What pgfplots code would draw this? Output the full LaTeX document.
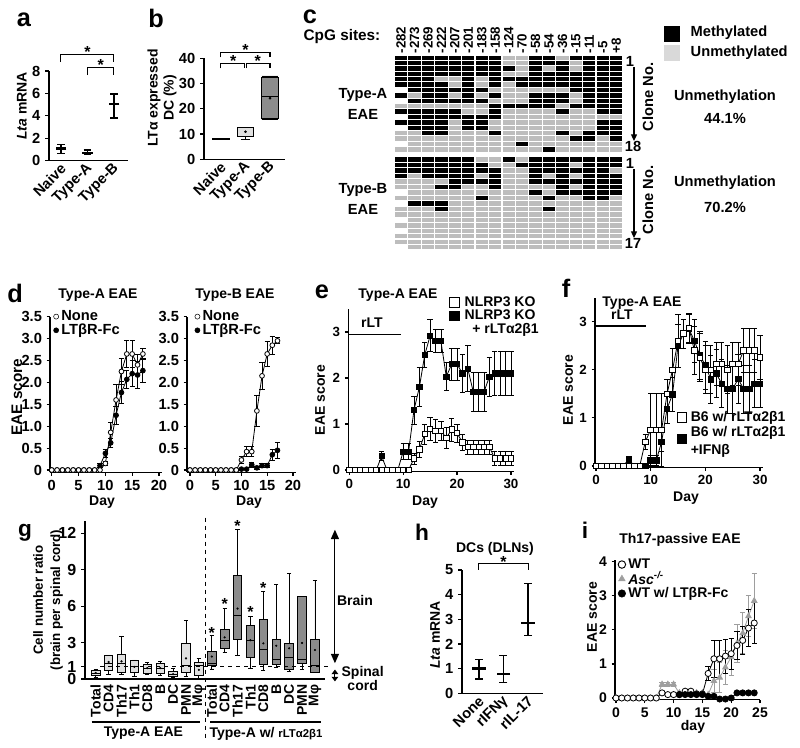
\documentclass[border=0pt]{standalone}
\usepackage{fontspec}
\setmainfont{Liberation Sans}
\usepackage{pgfplots}
\pgfplotsset{compat=1.18}
\usepgfplotslibrary{statistics}
\usetikzlibrary{arrows.meta}
\newcommand{\fs}[1]{\fontsize{#1}{#1}\selectfont}
\pgfdeclareplotmark{cell}{\pgfpathrectangle{\pgfpoint{-4.6pt}{-1.65pt}}{\pgfpoint{9.2pt}{3.3pt}}\pgfusepathqfill}
\definecolor{cellgray}{gray}{0.74}
\definecolor{leggray}{gray}{0.85}
\definecolor{boxlight}{gray}{0.88}
\definecolor{boxdark}{gray}{0.55}
\definecolor{ascgray}{gray}{0.62}
\pgfplotsset{
  base/.style={scale only axis, anchor=south west, axis lines=left,
    axis line style={-, line width=0.9pt}, tick style={black, line width=0.9pt},
    tick align=outside, major tick length=3pt, clip=false,
    /pgf/number format/assume math mode=true, boxplot/draw direction=y,
    tick label style={font=\bfseries\fs{11}}},
  nox/.style={xtick style={draw=none}},
  eb/.style n args={3}{draw=none, mark=none, forget plot,
    error bars/.cd, y dir=both, y explicit,
    error bar style={draw=#1, line width=#2, solid},
    error mark options={rotate=90, mark size=#3, line width=#2, draw=#1}},
  mk/.style n args={2}{black, only marks, forget plot, mark=-, mark size=#1,
    mark options={line width=1.8pt},
    error bars/.cd, y dir=both, y explicit, error bar style={line width=0.9pt},
    error mark options={rotate=90, mark size=#2, line width=0.9pt}},
  omleg/.style={legend image code/.code={\draw[##1] plot coordinates {(0.12cm,0cm)};},
    legend cell align=left},
}
\begin{document}
\begin{tikzpicture}
\useasboundingbox (0pt,0pt) rectangle (600pt,-560.25pt);

% ---------------- a ----------------
\begin{axis}[base, nox, at={(36.75pt,-120.525pt)}, width=59.25pt, height=67.3pt,
  xmin=-0.45, xmax=2.53, ymin=0, ymax=8, ytick={0,2,4,6,8},
  xtick={0,1,2}, xticklabels={Naive,Type-A,Type-B},
  x tick label style={rotate=45, anchor=east, xshift=4pt, yshift=-2pt}]
\addplot[mk={4pt}{2.8pt}] coordinates {(0,1.1) += (0,0.35) -= (0,0.43) (1,0.7) += (0,0.26) -= (0,0.11) (2,5.05) += (0,0.9) -= (0,1.25)};
\draw[line width=0.8pt] (0,8.8) -- (0,9.43) -- (2,9.43) -- (2,8.8);
\node[font=\bfseries\fs{12}] at (1,9.7) {*};
\draw[line width=0.8pt] (1,7.64) -- (1,8.27) -- (2,8.27) -- (2,7.64);
\node[font=\bfseries\fs{12}] at (1.5,8.5) {*};
\end{axis}

% ---------------- b ----------------
\begin{axis}[base, nox, at={(153pt,-119.475pt)}, width=60.75pt, height=75.75pt,
  xmin=-0.69, xmax=2.61, ymin=0, ymax=40, ytick={0,10,20,30,40},
  xtick={0,1,2}, xticklabels={Naive,Type-A,Type-B},
  x tick label style={rotate=45, anchor=east, xshift=4pt, yshift=-2pt},
  boxplot/box extend=0.68, boxplot/whisker extend=0.68]
\addplot[black, line width=1.2pt, boxplot prepared={draw position=0, median=7.9, lower quartile=7.85, upper quartile=7.95, lower whisker=7.85, upper whisker=7.95}] coordinates {};
\addplot[black, line width=0.7pt, fill=boxlight, boxplot/whisker extend=0.4, boxplot prepared={draw position=1, median=12.5, lower quartile=9.0, upper quartile=12.7, lower whisker=8.0, upper whisker=12.7}] coordinates {};
\addplot[black, line width=0.7pt, fill=boxdark, boxplot prepared={draw position=2, median=24.7, lower quartile=16.2, upper quartile=32.5, lower whisker=15.6, upper whisker=33}] coordinates {};
\addplot[black, only marks, mark=*, mark size=0.8pt] coordinates {(1,10.9) (2,24.2)};
\draw[line width=0.8pt] (0,40.4) -- (0,42.2) -- (2,42.2) -- (2,40.4);
\draw[line width=0.8pt] (0,36.0) -- (0,38.0) -- (0.95,38.0) -- (0.95,36.0);
\draw[line width=0.8pt] (1.05,36.0) -- (1.05,38.0) -- (2,38.0) -- (2,36.0);
\node[font=\bfseries\fs{12}] at (1,43.2) {*};
\node[font=\bfseries\fs{12}] at (0.5,39.0) {*};
\node[font=\bfseries\fs{12}] at (1.5,39.0) {*};
\end{axis}

% ---------------- c ----------------
\begin{axis}[scale only axis, anchor=south west, at={(295.725pt,-114pt)}, width=171.5pt, height=72.75pt,
  xmin=-0.5, xmax=16.5, ymin=-17.5, ymax=0.5, clip=false,
  axis line style={draw=none}, tick style={draw=none}, ytick=\empty,
  xtick={0,...,16}, xticklabel pos=right,
  xticklabels={-282,-273,-269,-222,-207,-201,-183,-158,-124,-70,-58,-54,-36,-15,-11,-5,+8},
  x tick label style={rotate=90, anchor=west, font=\bfseries\fs{10}, inner sep=1pt}]
\addplot[scatter, only marks, point meta=explicit symbolic,
  scatter/classes={0={mark=cell,cellgray},1={mark=cell,black}}]
  table[row sep=\\, x expr={mod(\coordindex,17)}, y expr={-floor(\coordindex/17)}, meta=m] {
m\\
1\\1\\1\\1\\1\\1\\1\\1\\0\\0\\1\\1\\0\\1\\1\\1\\1\\
1\\1\\1\\1\\1\\1\\1\\1\\0\\0\\1\\1\\1\\0\\1\\1\\1\\
1\\1\\1\\1\\1\\1\\1\\1\\1\\0\\1\\0\\1\\0\\1\\1\\1\\
1\\1\\1\\1\\1\\1\\1\\1\\0\\0\\1\\1\\1\\1\\1\\1\\1\\
1\\1\\1\\0\\0\\1\\0\\1\\1\\1\\1\\1\\1\\1\\1\\1\\1\\
1\\1\\1\\1\\0\\1\\0\\1\\0\\1\\1\\1\\1\\1\\1\\1\\1\\
1\\1\\1\\1\\1\\1\\1\\0\\0\\0\\0\\0\\0\\1\\1\\1\\1\\
1\\0\\1\\1\\0\\1\\0\\1\\0\\0\\1\\1\\1\\0\\1\\1\\1\\
1\\1\\1\\1\\1\\1\\1\\0\\0\\0\\1\\1\\1\\0\\1\\1\\1\\
0\\0\\0\\0\\0\\0\\0\\1\\1\\1\\1\\1\\0\\1\\1\\1\\1\\
0\\1\\1\\1\\1\\0\\0\\1\\0\\0\\0\\0\\1\\0\\0\\1\\1\\
1\\1\\1\\1\\1\\1\\1\\1\\0\\0\\0\\0\\0\\0\\0\\0\\0\\
1\\1\\1\\1\\0\\1\\1\\0\\0\\0\\0\\0\\0\\0\\0\\1\\1\\
1\\1\\1\\1\\0\\1\\1\\0\\0\\0\\0\\0\\0\\0\\0\\1\\1\\
0\\0\\1\\1\\0\\0\\0\\1\\0\\0\\0\\0\\1\\0\\1\\1\\1\\
0\\0\\0\\0\\0\\0\\0\\0\\0\\0\\0\\0\\0\\1\\1\\0\\1\\
0\\0\\0\\0\\0\\0\\0\\0\\0\\1\\0\\0\\0\\0\\0\\0\\0\\
0\\0\\0\\0\\0\\0\\0\\0\\0\\0\\0\\1\\0\\0\\0\\0\\0\\
};
\end{axis}
\begin{axis}[scale only axis, anchor=south west, at={(295.725pt,-187.5pt)}, width=171.5pt, height=70pt,
  xmin=-0.5, xmax=16.5, ymin=-16.5, ymax=0.5, clip=false,
  axis line style={draw=none}, tick style={draw=none}, ytick=\empty, xtick=\empty]
\addplot[scatter, only marks, point meta=explicit symbolic,
  scatter/classes={0={mark=cell,cellgray},1={mark=cell,black}}]
  table[row sep=\\, x expr={mod(\coordindex,17)}, y expr={-floor(\coordindex/17)}, meta=m] {
m\\
1\\1\\1\\1\\1\\1\\0\\0\\1\\0\\1\\1\\1\\1\\1\\1\\1\\
1\\1\\1\\1\\1\\1\\1\\0\\0\\1\\1\\1\\1\\0\\1\\1\\1\\
1\\1\\1\\1\\1\\1\\1\\1\\0\\0\\1\\1\\1\\1\\1\\1\\0\\
1\\0\\1\\1\\1\\1\\0\\1\\0\\0\\1\\0\\1\\0\\1\\1\\1\\
0\\0\\0\\0\\1\\1\\1\\1\\0\\0\\1\\1\\1\\1\\1\\1\\1\\
0\\0\\0\\1\\1\\0\\0\\1\\0\\0\\0\\0\\1\\0\\1\\1\\1\\
0\\0\\0\\0\\0\\0\\0\\0\\0\\0\\1\\0\\1\\1\\1\\1\\1\\
0\\0\\0\\0\\0\\0\\1\\0\\0\\0\\0\\1\\0\\0\\1\\1\\0\\
0\\1\\1\\1\\0\\0\\0\\0\\0\\0\\0\\0\\0\\0\\0\\0\\0\\
0\\0\\0\\1\\0\\0\\0\\0\\0\\0\\0\\1\\0\\0\\0\\0\\0\\
0\\0\\0\\0\\0\\0\\0\\0\\0\\0\\0\\0\\0\\0\\0\\0\\0\\
0\\0\\0\\0\\0\\0\\0\\0\\0\\0\\0\\0\\0\\0\\0\\0\\0\\
0\\0\\0\\0\\0\\0\\0\\0\\0\\0\\0\\0\\0\\0\\0\\0\\0\\
0\\0\\0\\0\\0\\0\\0\\0\\0\\0\\0\\0\\0\\0\\0\\0\\0\\
0\\0\\0\\0\\0\\0\\0\\0\\0\\0\\0\\0\\0\\0\\0\\0\\0\\
0\\0\\0\\0\\0\\0\\0\\0\\0\\0\\0\\0\\0\\0\\0\\0\\0\\
0\\0\\0\\0\\0\\0\\0\\0\\0\\0\\0\\0\\0\\0\\0\\0\\0\\
};
\end{axis}

% ---------------- d left ----------------
\begin{axis}[base, at={(37.5pt,-354.15pt)}, width=84.15pt, height=116.6pt,
  xmin=-0.32, xmax=20.6, ymin=-0.05, ymax=3.5, major tick length=2.5pt,
  xtick={0,5,10,15,20}, ytick={0,0.5,1,1.5,2,2.5,3,3.5},
  yticklabels={0,0.5,1.0,1.5,2.0,2.5,3.0,3.5}, omleg,
  legend style={at={(rel axis cs:0.03,1.05)}, anchor=north west, draw=none, fill=none,
    inner sep=0pt, row sep=-1pt, column sep=1pt, font=\bfseries\fs{11}, nodes={inner sep=1pt}}]
\addlegendimage{black, mark=o, mark size=1.9pt}\addlegendentry{None}
\addlegendimage{black, mark=*, mark size=1.9pt}\addlegendentry{LTβR-Fc}
\addplot[eb={black}{0.6pt}{2pt}] coordinates {(9,0.1) +- (0,0.04) (10,0.38) +- (0,0.1) (11,0.62) +- (0,0.1) (12,1.25) +- (0,0.2) (13,1.77) +- (0,0.25) (14,2.07) +- (0,0.2) (15,2.2) +- (0,0.3) (16,2.17) +- (0,0.3) (17,2.27) +- (0,0.27)};
\addplot[black, line width=0.6pt, mark=*, mark size=1.8pt, forget plot] coordinates {(0,0)(1,0)(2,0)(3,0)(4,0)(5,0)(6,0)(7,0)(8,0)(9,0.1)(10,0.38)(11,0.62)(12,1.25)(13,1.77)(14,2.07)(15,2.2)(16,2.17)(17,2.27)};
\addplot[eb={black}{0.6pt}{2pt}] coordinates {(10,0.15) +- (0,0.05) (11,0.86) +- (0,0.22) (12,1.6) +- (0,0.35) (13,2.25) +- (0,0.3) (14,2.65) +- (0,0.3) (15,2.65) +- (0,0.3) (16,2.4) +- (0,0.25) (17,2.65) +- (0,0.12)};
\addplot[black, line width=0.6pt, mark=*, mark options={fill=white}, mark size=1.8pt, forget plot] coordinates {(0,0)(1,0)(2,0)(3,0)(4,0)(5,0)(6,0)(7,0)(8,0)(9,0)(10,0.15)(11,0.86)(12,1.6)(13,2.25)(14,2.65)(15,2.65)(16,2.4)(17,2.65)};
\end{axis}

% ---------------- d right ----------------
\begin{axis}[base, at={(140.25pt,-354.15pt)}, width=81.75pt, height=116.6pt,
  xmin=-0.58, xmax=20.6, ymin=-0.05, ymax=3.5, major tick length=2.5pt,
  xtick={0,5,10,15,20}, ytick={0,0.5,1,1.5,2,2.5,3,3.5},
  yticklabels={0,0.5,1.0,1.5,2.0,2.5,3.0,3.5}, omleg,
  legend style={at={(rel axis cs:0.07,1.05)}, anchor=north west, draw=none, fill=none,
    inner sep=0pt, row sep=-1pt, column sep=1pt, font=\bfseries\fs{11}, nodes={inner sep=1pt}}]
\addlegendimage{black, mark=o, mark size=1.9pt}\addlegendentry{None}
\addlegendimage{black, mark=*, mark size=1.9pt}\addlegendentry{LTβR-Fc}
\addplot[eb={black}{0.6pt}{2pt}] coordinates {(12,0.12) +- (0,0.05) (13,0.05) +- (0,0.04) (14,0.1) +- (0,0.05) (15,0.1) +- (0,0.05) (16,0.35) +- (0,0.12) (17,0.45) +- (0,0.18)};
\addplot[black, line width=0.6pt, mark=*, mark size=1.8pt, forget plot] coordinates {(0,0)(1,0)(2,0)(3,0)(4,0)(5,0)(6,0)(7,0)(8,0)(9,0)(10,0.02)(11,0.02)(12,0.12)(13,0.05)(14,0.1)(15,0.1)(16,0.35)(17,0.45)};
\addplot[eb={black}{0.6pt}{2pt}] coordinates {(10,0.23) +- (0,0.08) (11,0.42) +- (0,0.12) (12,0.42) +- (0,0.12) (13,1.35) +- (0,0.35) (14,2.15) +- (0,0.3) (15,2.65) +- (0,0.28) (16,2.85) +- (0,0.2) (17,2.95) +- (0,0.07)};
\addplot[black, line width=0.6pt, mark=*, mark options={fill=white}, mark size=1.8pt, forget plot] coordinates {(0,0)(1,0)(2,0)(3,0)(4,0)(5,0)(6,0)(7,0)(8,0)(9,0)(10,0.23)(11,0.42)(12,0.42)(13,1.35)(14,2.15)(15,2.65)(16,2.85)(17,2.95)};
\end{axis}

% ---------------- e ----------------
\begin{axis}[base, at={(261.15pt,-353.55pt)}, width=124.5pt, height=121.8pt,
  xmin=-0.2, xmax=30.6, ymin=-0.03, ymax=3.5, major tick length=2.5pt,
  xtick={0,10,20,30}, ytick={0,1,2,3}, tick label style={font=\bfseries\fs{10}}, omleg,
  legend style={at={(rel axis cs:0.61,1.085)}, anchor=north west, draw=none, fill=none,
    inner sep=0pt, row sep=-1pt, column sep=3pt, font=\bfseries\fs{10.5}, nodes={inner sep=1pt}}]
\addlegendimage{black, mark=square, mark size=3.6pt, line width=0.7pt}\addlegendentry{NLRP3 KO}
\addlegendimage{black, mark=square*, mark size=3.6pt}\addlegendentry{NLRP3 KO}
\addlegendimage{empty legend}\addlegendentry{\ \ + rLTα2β1}
\draw[line width=0.8pt] (0,2.95) -- (9.6,2.95);
\node[font=\bfseries\fs{10.5}] at (4.2,3.2) {rLT};
\addplot[eb={black}{0.6pt}{2pt}] coordinates {(6,0.3) +- (0,0.1) (10,0.4) +- (0,0.17) (11,0.4) +- (0,0.17) (12,1.3) +- (0,0.3) (13,1.8) +- (0,0.42) (14,2.5) +- (0,0.27) (15,2.92) +- (0,0.35) (16,2.8) +- (0,0.25) (17,2.8) +- (0,0.25) (18,2.03) +- (0,0.3) (19,2.3) +- (0,0.35) (20,2.3) +- (0,0.35) (21,2.1) +- (0,0.42) (22,2.2) +- (0,0.5) (23,1.7) +- (0,0.42) (24,1.7) +- (0,0.42) (25,1.7) +- (0,0.42) (26,2.03) +- (0,0.42) (27,2.1) +- (0,0.48) (28,2.1) +- (0,0.48) (29,2.1) +- (0,0.48) (30,2.1) +- (0,0.48)};
\addplot[black, line width=0.6pt, mark=square*, mark size=2pt, forget plot] coordinates {(0,0)(1,0)(2,0)(3,0)(4,0)(5,0)(6,0.3)(7,0)(8,0)(9,0)(10,0.4)(11,0.4)(12,1.3)(13,1.8)(14,2.5)(15,2.92)(16,2.8)(17,2.8)(18,2.03)(19,2.3)(20,2.3)(21,2.1)(22,2.2)(23,1.7)(24,1.7)(25,1.7)(26,2.03)(27,2.1)(28,2.1)(29,2.1)(30,2.1)};
\addplot[eb={black}{0.6pt}{2pt}] coordinates {(12,0.25) +- (0,0.12) (13,0.45) +- (0,0.18) (14,0.78) +- (0,0.22) (15,0.9) +- (0,0.25) (16,0.85) +- (0,0.25) (17,0.85) +- (0,0.2) (18,0.7) +- (0,0.22) (19,0.88) +- (0,0.25) (20,0.8) +- (0,0.2) (21,0.6) +- (0,0.18) (22,0.5) +- (0,0.15) (23,0.5) +- (0,0.15) (24,0.5) +- (0,0.15) (25,0.5) +- (0,0.15) (26,0.5) +- (0,0.15) (27,0.25) +- (0,0.15) (28,0.25) +- (0,0.15) (29,0.25) +- (0,0.15) (30,0.25) +- (0,0.15)};
\addplot[black, line width=0.6pt, mark=square*, mark options={fill=white}, mark size=2pt, forget plot] coordinates {(0,0)(1,0)(2,0)(3,0)(4,0)(5,0)(6,0)(7,0)(8,0)(9,0)(10,0)(11,0)(12,0.25)(13,0.45)(14,0.78)(15,0.9)(16,0.85)(17,0.85)(18,0.7)(19,0.88)(20,0.8)(21,0.6)(22,0.5)(23,0.5)(24,0.5)(25,0.5)(26,0.5)(27,0.25)(28,0.25)(29,0.25)(30,0.25)};
\end{axis}

% ---------------- f ----------------
\begin{axis}[base, at={(446.175pt,-350.55pt)}, width=125.9pt, height=127.35pt,
  xmin=-0.2, xmax=30.5, ymin=-0.03, ymax=3.5, major tick length=2.5pt,
  xtick={0,10,20,30}, ytick={0,1,2,3}, tick label style={font=\bfseries\fs{10}}, omleg,
  legend style={at={(rel axis cs:0.49,0.34)}, anchor=north west, draw=none, fill=none,
    inner sep=0pt, row sep=0pt, column sep=2pt, font=\bfseries\fs{10.5}, nodes={inner sep=1pt}}]
\addlegendimage{black, mark=square, mark size=3.5pt, line width=0.7pt}\addlegendentry{B6 w/ rLTα2β1}
\addlegendimage{black, mark=square*, mark size=3.5pt, yshift=-5pt}\addlegendentry{B6 w/ rLTα2β1}
\addlegendimage{empty legend}\addlegendentry{+IFNβ}
\draw[line width=0.8pt] (0,2.91) -- (9.1,2.91);
\node[font=\bfseries\fs{10.5}] at (4.75,3.14) {rLT};
\addplot[eb={black}{0.6pt}{2pt}] coordinates {(6,0.14) +- (0,0.05) (10,0.11) +- (0,0.1) (11,0.11) +- (0,0.1) (12,0.5) +- (0,0.2) (13,1.19) +- (0,0.3) (14,1.49) +- (0,0.35) (15,2.5) +- (0,0.45) (16,2.75) +- (0,0.3) (17,2.85) +- (0,0.3) (18,2.6) +- (0,0.45) (19,2.3) +- (0,0.5) (20,2.09) +- (0,0.5) (21,1.8) +- (0,0.5) (22,1.92) +- (0,0.5) (23,1.71) +- (0,0.5) (24,1.6) +- (0,0.5) (25,1.6) +- (0,0.5) (26,1.81) +- (0,0.5) (27,1.6) +- (0,0.5) (28,1.6) +- (0,0.5) (29,1.71) +- (0,0.5) (30,1.71) +- (0,0.5)};
\addplot[black, line width=0.6pt, mark=square*, mark size=2.1pt, forget plot] coordinates {(0,0)(1,0)(2,0)(3,0)(4,0)(5,0)(6,0.14)(7,0)(8,0)(9,0)(10,0.11)(11,0.11)(12,0.5)(13,1.19)(14,1.49)(15,2.5)(16,2.75)(17,2.85)(18,2.6)(19,2.3)(20,2.09)(21,1.8)(22,1.92)(23,1.71)(24,1.6)(25,1.6)(26,1.81)(27,1.6)(28,1.6)(29,1.71)(30,1.71)};
\addplot[eb={black}{0.6pt}{2pt}] coordinates {(9,0.5) +- (0,0.15) (10,0.75) +- (0,0.75) (11,0.75) +- (0,0.75) (12,0.75) +- (0,0.75) (13,1.5) +- (0,0.3) (14,2.0) +- (0,0.45) (15,2.6) +- (0,0.55) (16,2.75) +- (0,0.3) (17,2.87) +- (0,0.3) (18,2.4) +- (0,0.5) (19,2.25) +- (0,0.5) (20,2.0) +- (0,0.5) (21,2.0) +- (0,0.5) (22,2.12) +- (0,0.45) (23,2.12) +- (0,0.45) (24,2.0) +- (0,0.5) (25,2.12) +- (0,0.45) (26,2.12) +- (0,0.45) (27,2.4) +- (0,0.45) (28,2.4) +- (0,0.45) (29,2.4) +- (0,0.45) (30,2.26) +- (0,0.45)};
\addplot[black, line width=0.6pt, mark=square*, mark options={fill=white}, mark size=2.1pt, forget plot] coordinates {(0,0)(1,0)(2,0)(3,0)(4,0)(5,0)(6,0)(7,0)(8,0)(9,0.5)(10,0.75)(11,0.75)(12,0.75)(13,1.5)(14,2.0)(15,2.6)(16,2.75)(17,2.87)(18,2.4)(19,2.25)(20,2.0)(21,2.0)(22,2.12)(23,2.12)(24,2.0)(25,2.12)(26,2.12)(27,2.4)(28,2.4)(29,2.4)(30,2.26)};
\end{axis}

% ---------------- g ----------------
\begin{axis}[base, nox, at={(63.75pt,-509.25pt)}, width=180pt, height=118.35pt,
  xmin=0.17, xmax=18.78, ymin=0, ymax=13, ytick={0,1,3,6,9,12},
  tick label style={font=\bfseries\fs{12}},
  xtick={1,...,18},
  xticklabels={Total,CD4,Th17,Th1,CD8,B,DC,PMN,Mφ,Total,CD4,Th17,Th1,CD8,B,DC,PMN,Mφ},
  x tick label style={rotate=90, anchor=east, font=\bfseries\fs{10.5}, inner sep=1pt},
  boxplot/box extend=0.66, boxplot/whisker extend=0.33]
\addplot[black, line width=0.6pt, fill=boxlight, boxplot prepared={draw position=1, median=0.5, lower quartile=0.33, upper quartile=0.74, lower whisker=0.1, upper whisker=0.8}] coordinates {};
\addplot[black, line width=0.6pt, fill=boxlight, boxplot prepared={draw position=2, median=1.3, lower quartile=0.74, upper quartile=1.98, lower whisker=0.4, upper whisker=1.98}] coordinates {};
\addplot[black, line width=0.6pt, fill=boxlight, boxplot prepared={draw position=3, median=1.3, lower quartile=0.52, upper quartile=2.04, lower whisker=0.4, upper whisker=3.5}] coordinates {};
\addplot[black, line width=0.6pt, fill=boxlight, boxplot prepared={draw position=4, median=1.0, lower quartile=0.52, upper quartile=1.5, lower whisker=0.2, upper whisker=1.57}] coordinates {};
\addplot[black, line width=0.6pt, fill=boxlight, boxplot prepared={draw position=5, median=0.9, lower quartile=0.47, upper quartile=1.24, lower whisker=0.4, upper whisker=1.35}] coordinates {};
\addplot[black, line width=0.6pt, fill=boxlight, boxplot prepared={draw position=6, median=0.9, lower quartile=0.47, upper quartile=1.3, lower whisker=0.33, upper whisker=1.43}] coordinates {};
\addplot[black, line width=0.6pt, fill=boxlight, boxplot prepared={draw position=7, median=0.4, lower quartile=0.2, upper quartile=0.6, lower whisker=0.15, upper whisker=0.9}] coordinates {};
\addplot[black, line width=0.6pt, fill=boxlight, boxplot prepared={draw position=8, median=1.1, lower quartile=0.52, upper quartile=2.9, lower whisker=0.2, upper whisker=4.8}] coordinates {};
\addplot[black, line width=0.6pt, fill=boxlight, boxplot prepared={draw position=9, median=1.1, lower quartile=0.33, upper quartile=1.35, lower whisker=0.05, upper whisker=1.7}] coordinates {};
\addplot[black, line width=0.6pt, fill=boxdark, boxplot prepared={draw position=10, median=1.3, lower quartile=1.15, upper quartile=2.25, lower whisker=0.83, upper whisker=3.58}] coordinates {};
\addplot[black, line width=0.6pt, fill=boxdark, boxplot prepared={draw position=11, median=3.2, lower quartile=2.53, upper quartile=4.09, lower whisker=2.17, upper whisker=5.8}] coordinates {};
\addplot[black, line width=0.6pt, fill=boxdark, boxplot prepared={draw position=12, median=5.2, lower quartile=3.27, upper quartile=8.57, lower whisker=1.92, upper whisker=12.3}] coordinates {};
\addplot[black, line width=0.6pt, fill=boxdark, boxplot prepared={draw position=13, median=3.2, lower quartile=1.76, upper quartile=4.45, lower whisker=0.88, upper whisker=5.13}] coordinates {};
\addplot[black, line width=0.6pt, fill=boxdark, boxplot prepared={draw position=14, median=2.44, lower quartile=1.24, upper quartile=4.94, lower whisker=0.74, upper whisker=7.25}] coordinates {};
\addplot[black, line width=0.6pt, fill=boxdark, boxplot prepared={draw position=15, median=1.62, lower quartile=1.24, upper quartile=3.3, lower whisker=0.93, upper whisker=7.8}] coordinates {};
\addplot[black, line width=0.6pt, fill=boxdark, boxplot prepared={draw position=16, median=1.79, lower quartile=0.8, upper quartile=2.94, lower whisker=0.66, upper whisker=8.7}] coordinates {};
\addplot[black, line width=0.6pt, fill=boxdark, boxplot prepared={draw position=17, median=1.62, lower quartile=1.29, upper quartile=6.78, lower whisker=0.8, upper whisker=6.78}] coordinates {};
\addplot[black, line width=0.6pt, fill=boxdark, boxplot prepared={draw position=18, median=1.15, lower quartile=0.52, upper quartile=3.3, lower whisker=0.52, upper whisker=8.15}] coordinates {};
\addplot[black, only marks, mark=*, mark size=0.6pt] coordinates {(1,0.5)(2,1.4)(3,1.45)(4,1.0)(5,0.9)(6,0.9)(7,0.4)(8,1.7)(9,0.75)(10,1.85)(11,3.43)(12,5.8)(13,3.2)(14,2.94)(15,2.74)(16,2.53)(17,2.97)(18,2.39)};
\draw[dashed, line width=0.8pt] (9.5,13.3) -- (9.5,-5.1);
\draw[dashed, line width=0.8pt] (1.35,1) -- (19.3,1);
\node[font=\bfseries\fs{12}] at (10,3.82) {*};
\node[font=\bfseries\fs{12}] at (11,6.22) {*};
\node[font=\bfseries\fs{12}] at (12,12.62) {*};
\node[font=\bfseries\fs{12}] at (13,5.52) {*};
\node[font=\bfseries\fs{12}] at (14,7.46) {*};
\draw[{Triangle[length=7pt,width=6pt]}-{Triangle[length=7pt,width=6pt]}, line width=0.8pt] (19.55,1.3) -- (19.55,12.3);
\draw[{Triangle[length=3.5pt,width=5pt]}-{Triangle[length=3.5pt,width=5pt]}, line width=0.8pt] (19.55,0.78) -- (19.55,-0.2);
\node[font=\bfseries\fs{10.5}] at (21.1,6.5) {Brain};
\node[font=\bfseries\fs{10.5}, align=center] at (21.7,0.05) {Spinal\\cord};
\draw[line width=0.8pt] (0.69,-3.54) -- (9.08,-3.54);
\draw[line width=0.8pt] (9.87,-3.54) -- (18.5,-3.54);
\node[font=\bfseries\fs{10.5}] at (4.7,-4.5) {Type-A EAE};
\node[font=\bfseries\fs{10.5}] at (14.2,-4.5) {Type-A w/ {\fs{8.5}rLTα2β1}};
\end{axis}

% ---------------- h ----------------
\begin{axis}[base, nox, at={(346.5pt,-519.975pt)}, width=60.75pt, height=92.5pt,
  xmin=-0.69, xmax=2.61, ymin=0, ymax=5, ytick={0,1,2,3,4,5},
  xtick={0,1,2}, xticklabels={None,rIFNγ,rIL-17},
  x tick label style={rotate=45, anchor=east, xshift=4pt, yshift=-2pt}]
\addplot[mk={5pt}{3pt}] coordinates {(0,1.0) += (0,0.36) -= (0,0.42) (1,0.78) += (0,0.74) -= (0,0.33) (2,2.86) += (0,1.59) -= (0,0.52)};
\draw[line width=0.8pt] (0,5.0) -- (0,5.28) -- (2,5.28) -- (2,5.0);
\node[font=\bfseries\fs{12}] at (1,5.31) {*};
\end{axis}

% ---------------- i ----------------
\begin{axis}[base, at={(461.25pt,-524.775pt)}, width=108.75pt, height=104.85pt,
  xmin=-0.17, xmax=25, ymin=-0.05, ymax=4.05, major tick length=2.5pt,
  xtick={0,5,10,15,20,25}, ytick={0,1,2,3,4}, tick label style={font=\bfseries\fs{10.5}}, omleg,
  legend style={at={(rel axis cs:0.02,1.02)}, anchor=north west, draw=none, fill=none,
    inner sep=0pt, row sep=-1pt, column sep=1pt, font=\bfseries\fs{10.5}, nodes={inner sep=1pt}}]
\addlegendimage{black, mark=o, mark size=2.8pt, line width=0.7pt}\addlegendentry{WT}
\addlegendimage{ascgray, mark=triangle*, mark size=2.8pt}\addlegendentry{\textit{Asc}\textsuperscript{\textit{-/-}}}
\addlegendimage{black, mark=*, mark size=2.8pt}\addlegendentry{WT w/ LTβR-Fc}
\addplot[eb={ascgray}{0.6pt}{2pt}] coordinates {(8,0.4) +- (0,0.06) (9,0.4) +- (0,0.06) (10,0.4) +- (0,0.06) (17,0.5) +- (0,0.35) (18,0.6) +- (0,0.45) (19,0.9) +- (0,0.5) (20,1.2) +- (0,0.55) (21,1.6) +- (0,0.55) (22,1.9) +- (0,0.6) (23,2.4) +- (0,0.6) (24,2.85) +- (0,0.8)};
\addplot[ascgray, line width=0.6pt, mark=triangle*, mark size=2.4pt, forget plot] coordinates {(0,0)(1,0)(2,0)(3,0)(4,0)(5,0)(6,0)(7,0)(8,0.4)(9,0.4)(10,0.4)(11,0.15)(12,0.15)(13,0.15)(14,0.15)(15,0.15)(16,0.1)(17,0.5)(18,0.6)(19,0.9)(20,1.2)(21,1.6)(22,1.9)(23,2.4)(24,2.85)};
\addplot[eb={black}{0.6pt}{2pt}] coordinates {(16,0.72) +- (0,0.2) (17,1.15) +- (0,0.55) (18,1.15) +- (0,0.55) (19,1.23) +- (0,0.5) (20,1.3) +- (0,0.45) (21,1.54) +- (0,0.4) (22,1.69) +- (0,0.4) (23,2.05) +- (0,0.55) (24,2.2) +- (0,0.6)};
\addplot[black, line width=0.6pt, mark=*, mark options={fill=white}, mark size=2.3pt, forget plot] coordinates {(0,0)(1,0)(2,0)(3,0)(4,0)(5,0)(6,0)(7,0)(8,0.15)(9,0.1)(10,0.1)(11,0.1)(12,0.2)(13,0.2)(14,0.12)(15,0.12)(16,0.72)(17,1.15)(18,1.15)(19,1.23)(20,1.3)(21,1.54)(22,1.69)(23,2.05)(24,2.2)};
\addplot[eb={black}{0.6pt}{2pt}] coordinates {(21,0.15) +- (0,0.05) (22,0.15) +- (0,0.05) (23,0.15) +- (0,0.05) (24,0.15) +- (0,0.05)};
\addplot[black, line width=0.6pt, mark=*, mark size=2.3pt, forget plot] coordinates {(11,0.1)(12,0.1)(13,0.1)(14,0.1)(15,0.1)(16,0.05)(17,0.05)(18,-0.03)(19,-0.03)(20,0)(21,0.15)(22,0.15)(23,0.15)(24,0.15)};
\end{axis}

% ---------------- free text ----------------
\begin{scope}[x=0.75pt,y=-0.75pt]
\begin{scope}[every node/.style={font=\bfseries\fs{19}}]
\node at (24,20) {a}; \node at (156,18) {b}; \node at (310,17) {c};
\node at (15,293) {d}; \node at (322,292) {e}; \node at (566,288) {f};
\end{scope}
\begin{scope}[every node/.style={font=\bfseries\fs{17}}]
\node at (25,533) {g}; \node at (422,532) {h}; \node at (585,530) {i};
\end{scope}
\begin{scope}[every node/.style={font=\bfseries\fs{10.5}}]
\node[rotate=90] at (22,106) {\textit{Lta} mRNA};
\node[rotate=90, align=center, font=\bfseries\fontsize{10.5}{12}\selectfont] at (162,98) {LTα expressed\\DC (\%)};
\node[font=\bfseries\fs{11.5}] at (342,37) {CpG sites:};
\node[align=center, font=\bfseries\fontsize{11}{16}\selectfont] at (363,104) {Type-A\\EAE};
\node[align=center, font=\bfseries\fontsize{11}{16}\selectfont] at (363,199) {Type-B\\EAE};
\fill[black] (664,26) rectangle (680,42);
\fill[leggray] (664,45) rectangle (680,61);
\node[anchor=west, font=\bfseries\fs{11}] at (686,33) {Methylated};
\node[anchor=west, font=\bfseries\fs{11}] at (686,53) {Unmethylated};
\node[font=\bfseries\fs{11}] at (630,61) {1};
\node[font=\bfseries\fs{11}] at (633,146) {18};
\draw[-{Triangle[length=5pt,width=4.5pt]}, line width=0.9pt] (634,67) -- (634,141);
\node[rotate=90, font=\bfseries\fs{11}] at (648,97) {Clone No.};
\node[font=\bfseries\fs{11}] at (630,163) {1};
\node[font=\bfseries\fs{11}] at (633,243) {17};
\draw[-{Triangle[length=5pt,width=4.5pt]}, line width=0.9pt] (634,169) -- (634,238);
\node[rotate=90, font=\bfseries\fs{11}] at (648,200) {Clone No.};
\node[font=\bfseries\fs{11}] at (725,97) {Unmethylation};
\node[font=\bfseries\fs{11}] at (725,118) {44.1\%};
\node[font=\bfseries\fs{11}] at (725,183) {Unmethylation};
\node[font=\bfseries\fs{11}] at (725,207) {70.2\%};
\node at (98,295) {Type-A EAE};
\node at (235,295) {Type-B EAE};
\node[rotate=90, font=\bfseries\fs{11.5}] at (17,397) {EAE score};
\node at (102,502) {Day};
\node at (249,502) {Day};
\node at (398,295) {Type-A EAE};
\node[rotate=90] at (320,400) {EAE score};
\node at (425,502) {Day};
\node at (642,303) {Type-A EAE};
\node[rotate=90] at (568,390) {EAE score};
\node at (686,498) {Day};
\node[rotate=90, align=center, font=\bfseries\fontsize{10}{13}\selectfont] at (48,600) {Cell number ratio\\(brain per spinal cord)};
\node[rotate=90] at (435,635) {\textit{Lta} mRNA};
\node at (495,549) {DCs (DLNs)};
\node[rotate=90] at (592,617) {EAE score};
\node at (680,540) {Th17-passive EAE};
\node at (693,727) {day};
\end{scope}
\end{scope}
\end{tikzpicture}
\end{document}
